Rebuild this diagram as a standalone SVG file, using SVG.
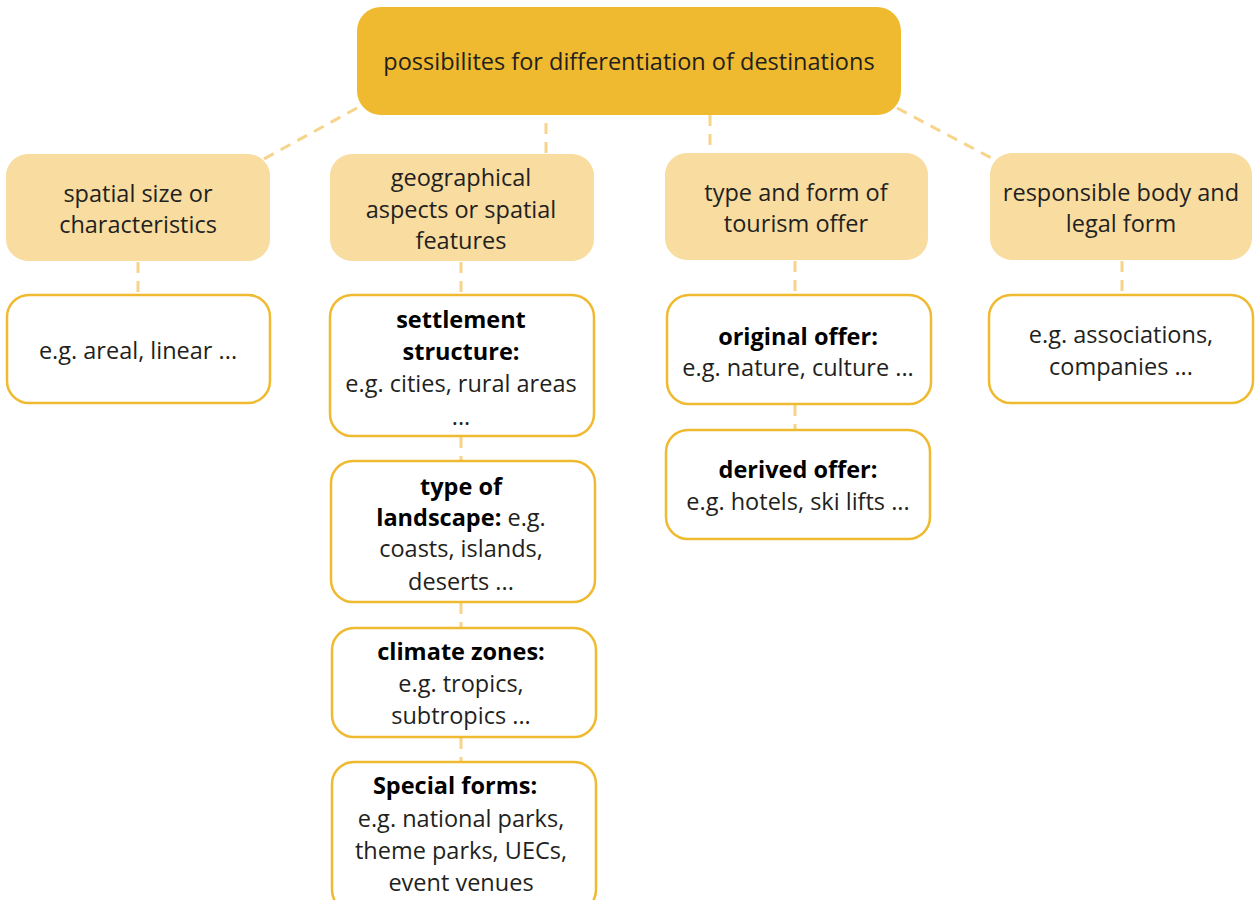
<svg xmlns="http://www.w3.org/2000/svg" width="1260" height="900" viewBox="0 0 1260 900">
<style>
text{font-family:"Open Sans","Liberation Sans",Arial,sans-serif;font-size:23.5px;fill:#231F20;text-anchor:middle}
.b{font-weight:bold;fill:#000}
.root{fill:#EFBA2F}
.l1{fill:#F8DCA0}
.l2{fill:#fff;stroke:#EFBA2F;stroke-width:2.5}
.c{stroke:#F6D48A;stroke-width:3;stroke-dasharray:11 8;fill:none}
</style>
<rect width="1260" height="900" fill="#fff"/>
<g id="connectors">
<line class="c" x1="357" y1="108" x2="262" y2="160"/>
<line class="c" x1="546" y1="123" x2="546" y2="154"/>
<line class="c" x1="710" y1="115" x2="710" y2="153"/>
<line class="c" x1="897" y1="108" x2="995" y2="160"/>
<line class="c" x1="138" y1="262" x2="138" y2="295"/>
<line class="c" x1="461" y1="262" x2="461" y2="295"/>
<line class="c" x1="461" y1="437" x2="461" y2="461"/>
<line class="c" x1="461" y1="603" x2="461" y2="628"/>
<line class="c" x1="461" y1="738" x2="461" y2="762"/>
<line class="c" x1="795" y1="261" x2="795" y2="295"/>
<line class="c" x1="795" y1="405" x2="795" y2="430"/>
<line class="c" x1="1122" y1="261" x2="1122" y2="295"/>
</g>
<g id="root"><rect class="root" x="357" y="7" width="544" height="108" rx="24"/><text x="629" y="70">possibilites for differentiation of destinations</text></g>
<g id="spatial"><rect class="l1" x="6" y="154" width="264" height="107" rx="22"/><text x="138" y="202">spatial size or</text><text x="138" y="233">characteristics</text></g>
<g id="geo"><rect class="l1" x="330" y="154" width="264" height="107" rx="22"/><text x="461" y="186">geographical</text><text x="461" y="218">aspects or spatial</text><text x="461" y="249">features</text></g>
<g id="type"><rect class="l1" x="665" y="153" width="263" height="107" rx="22"/><text x="796" y="201">type and form of</text><text x="796" y="232">tourism offer</text></g>
<g id="resp"><rect class="l1" x="990" y="153" width="262" height="107" rx="22"/><text x="1121" y="201">responsible body and</text><text x="1121" y="232">legal form</text></g>
<g id="spatial-ex"><rect class="l2" x="7" y="295" width="263" height="108" rx="22"/><text x="138" y="359">e.g. areal, linear ...</text></g>
<g id="settlement"><rect class="l2" x="330" y="295" width="264" height="141" rx="22"/><text class="b" x="461" y="328">settlement</text><text class="b" x="461" y="360">structure:</text><text x="461" y="392">e.g. cities, rural areas</text><text x="461" y="425">...</text></g>
<g id="landscape"><rect class="l2" x="331" y="461" width="264" height="141" rx="22"/><text class="b" x="461" y="495">type of</text><text x="461" y="526"><tspan class="b">landscape:</tspan> e.g.</text><text x="461" y="557">coasts, islands,</text><text x="461" y="590">deserts ...</text></g>
<g id="climate"><rect class="l2" x="332" y="628" width="264" height="109" rx="22"/><text class="b" x="461" y="660">climate zones:</text><text x="461" y="692">e.g. tropics,</text><text x="461" y="724">subtropics ...</text></g>
<g id="special"><rect class="l2" x="332" y="762" width="264" height="150" rx="22"/><text class="b" x="455" y="794">Special forms:</text><text x="461" y="827">e.g. national parks,</text><text x="461" y="859">theme parks, UECs,</text><text x="461" y="891">event venues</text></g>
<g id="original"><rect class="l2" x="667" y="295" width="264" height="109" rx="22"/><text class="b" x="798" y="345">original offer:</text><text x="798" y="376">e.g. nature, culture ...</text></g>
<g id="derived"><rect class="l2" x="666" y="430" width="264" height="109" rx="22"/><text class="b" x="798" y="478">derived offer:</text><text x="798" y="510">e.g. hotels, ski lifts ...</text></g>
<g id="resp-ex"><rect class="l2" x="989" y="295" width="264" height="108" rx="22"/><text x="1121" y="343">e.g. associations,</text><text x="1121" y="375">companies ...</text></g>
</svg>
